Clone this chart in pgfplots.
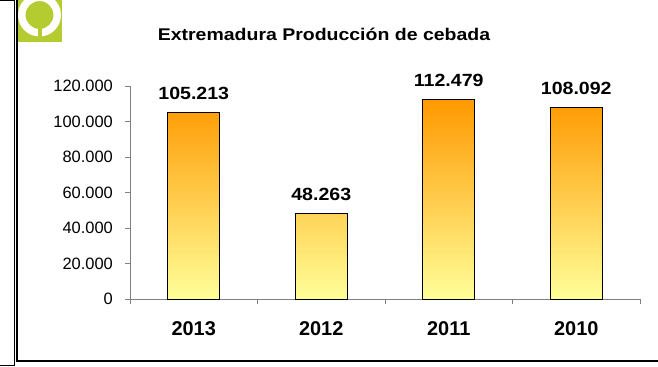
\documentclass[border=0pt]{standalone}
\usepackage{graphicx}
\usepackage{pgfplots}
\pgfplotsset{compat=1.18}
\usepackage{fontspec}
\setmainfont{Liberation Sans}

\definecolor{logogreen}{RGB}{181,204,48}
\definecolor{axisgray}{RGB}{128,128,128}
\definecolor{barTop}{RGB}{255,153,0}
\definecolor{barBottom}{RGB}{255,255,153}

\begin{document}
\begin{tikzpicture}[x=1bp,y=1bp]
\useasboundingbox (0,0) rectangle (658,366);

% page frame
\draw[line width=1bp] (0,365) -- (14.5,365) -- (14.5,1) -- (0,1);
\draw[line width=2.5bp] (16.8,366) -- (16.8,5) -- (658,5);

% logo
\begin{scope}
  \clip (17.5,324) rectangle (62,366);
  \fill[logogreen] (17.5,324) rectangle (62,366);
  \fill[white, even odd rule] (39.5,351) circle (21.5) (39.5,351) circle (14);
  \fill[logogreen] (39.5,351) circle (11);
  \fill[logogreen] (37.5,324) rectangle (41.5,345);
\end{scope}

% title
\node[font=\fontsize{17}{20}\selectfont\bfseries, anchor=base, inner sep=0pt]
  at (324,326) {\scalebox{1.15}[1]{Extremadura Producción de cebada}};

\begin{axis}[
  at={(130bp,67bp)}, anchor=south west,
  scale only axis, width=510bp, height=213bp,
  xmin=-0.5, xmax=3.5, ymin=0, ymax=120000,
  axis lines*=left,
  axis line style={axisgray, line width=0.8bp},
  clip=false,
  xtick={-0.5,0.5,1.5,2.5,3.5}, xticklabels={},
  extra x ticks={0,1,2,3},
  extra x tick labels={2013,2012,2011,2010},
  extra x tick style={major tick length=0pt,
    tick label style={font=\fontsize{20}{24}\selectfont\bfseries, anchor=north, inner sep=0pt, yshift=-22bp}},
  ytick={0,20000,40000,60000,80000,100000,120000},
  scaled y ticks=false,
  tick align=outside, major tick length=5bp,
  tick style={axisgray, line width=0.8bp},
  yticklabel style={font=\fontsize{16.5}{20}\selectfont, inner sep=0pt, xshift=-12bp},
  /pgf/number format/fixed,
  /pgf/number format/1000 sep={.},
  /pgf/number format/assume math mode=true,
]
\addplot[ybar, bar width=52bp, draw=black, line width=1bp,
  top color=barTop, bottom color=barBottom,
  nodes near coords={\scalebox{1.11}[1]{\pgfmathprintnumber{\pgfplotspointmeta}}},
  nodes near coords style={font=\fontsize{17.7}{21}\selectfont\bfseries, text=black,
    anchor=south, inner sep=0pt, yshift=12bp}]
  coordinates {(0,105213) (1,48263) (2,112479) (3,108092)};
\end{axis}
\end{tikzpicture}
\end{document}
